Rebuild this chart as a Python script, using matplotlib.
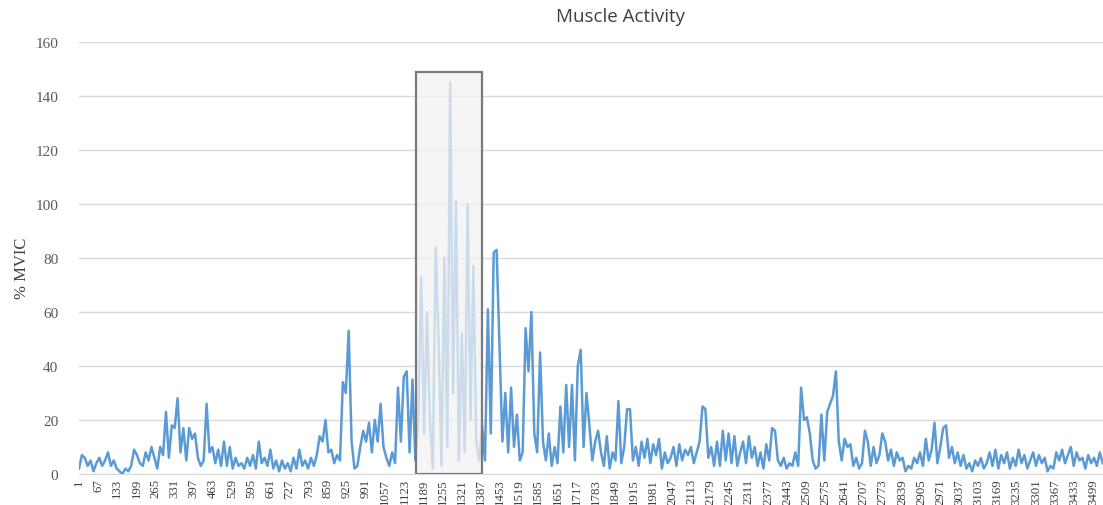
import numpy as np
import matplotlib.pyplot as plt
from matplotlib.patches import Rectangle

# % MVIC sampled every 10 samples, starting at sample 1
mvic = [
    2, 7, 6, 3, 5, 1, 4, 6, 3, 5,
    8, 3, 5, 2, 1, 0, 2, 1, 3, 9,
    7, 4, 3, 8, 5, 10, 6, 2, 10, 7,
    23, 6, 18, 17, 28, 8, 17, 5, 17, 13,
    15, 6, 3, 5, 26, 8, 10, 4, 9, 3,
    12, 3, 10, 2, 6, 3, 4, 2, 6, 3,
    7, 2, 12, 4, 6, 3, 9, 2, 5, 1,
    5, 2, 4, 1, 6, 2, 9, 3, 5, 2,
    6, 3, 7, 14, 12, 20, 8, 9, 4, 7,
    5, 34, 30, 53, 12, 2, 3, 10, 16, 12,
    19, 8, 20, 12, 26, 10, 6, 3, 8, 4,
    32, 12, 36, 38, 8, 35, 5, 20, 73, 15,
    60, 20, 2, 84, 50, 3, 80, 10, 145, 30,
    101, 5, 52, 8, 100, 20, 77, 12, 5, 18,
    5, 61, 15, 82, 83, 47, 12, 30, 8, 32,
    10, 22, 5, 8, 54, 38, 60, 15, 8, 45,
    12, 5, 15, 3, 10, 4, 25, 8, 33, 10,
    33, 5, 40, 46, 10, 30, 18, 5, 12, 16,
    8, 3, 14, 2, 8, 5, 27, 4, 10, 24,
    24, 5, 10, 3, 12, 6, 13, 4, 11, 7,
    13, 2, 8, 4, 6, 10, 3, 11, 5, 9,
    7, 10, 4, 8, 12, 25, 24, 6, 10, 3,
    12, 3, 16, 5, 15, 4, 14, 3, 8, 12,
    4, 14, 6, 10, 3, 8, 2, 11, 5, 17,
    16, 5, 3, 6, 2, 4, 3, 8, 3, 32,
    20, 21, 15, 5, 2, 3, 22, 5, 23, 26,
    29, 38, 12, 5, 13, 10, 11, 3, 6, 2,
    4, 16, 12, 3, 10, 4, 7, 15, 12, 5,
    9, 3, 8, 5, 6, 1, 3, 2, 6, 4,
    8, 3, 13, 5, 9, 19, 4, 10, 17, 18,
    6, 10, 4, 8, 3, 7, 2, 4, 1, 5,
    3, 6, 2, 4, 8, 3, 9, 2, 7, 4,
    8, 2, 6, 3, 9, 4, 7, 2, 5, 8,
    3, 7, 4, 6, 1, 3, 2, 8, 5, 9,
    4, 7, 10, 3, 8, 5, 6, 2, 7, 4,
    6, 3, 8, 4,
]
sample = np.arange(len(mvic)) * 10 + 1

x_labels = list(range(1, 3500, 66))

box_start, box_end, box_top = 1162, 1390, 149

fig = plt.figure(figsize=(11.03, 5.06), dpi=100)
ax = fig.add_axes([0.0716, 0.0613, 0.9284, 0.8538])

ax.plot(sample, mvic, color="#5b9bd5", lw=1.8, zorder=2)

# highlighted window, drawn over the trace
ax.add_patch(Rectangle((box_start, 0), box_end - box_start, box_top,
                       facecolor="#f2f2f2", alpha=0.75, edgecolor="none", zorder=3))
ax.add_patch(Rectangle((box_start, 0), box_end - box_start, box_top,
                       facecolor="none", edgecolor="#7a7a7a", lw=1.6, zorder=4))

ax.set_xlim(1, 3532)
ax.set_ylim(0, 160)
ax.set_yticks(range(0, 161, 20))
ax.set_xticks(x_labels)
ax.set_xticklabels([str(v) for v in x_labels], rotation=90,
                   family="Liberation Serif", fontsize=9.3, color="#404040")
for t in ax.get_yticklabels():
    t.set_family("Liberation Serif")
ax.tick_params(axis="y", labelsize=11, labelcolor="#595959", length=0, pad=15)
ax.tick_params(axis="x", length=0, pad=3)

ax.grid(axis="y", color="#d9d9d9", lw=1)
ax.set_axisbelow(True)
for s in ["top", "right", "left"]:
    ax.spines[s].set_visible(False)
ax.spines["bottom"].set_color("#d9d9d9")

fig.text(0.02, 0.47, "% MVIC", rotation=90, va="center", ha="center",
         family="Liberation Serif", fontsize=12, color="#404040")
fig.text(0.563, 0.966, "Muscle Activity", ha="center", va="center",
         family="Open Sans", fontsize=13.5, color="#404040")

plt.savefig("out.png", dpi=100)
